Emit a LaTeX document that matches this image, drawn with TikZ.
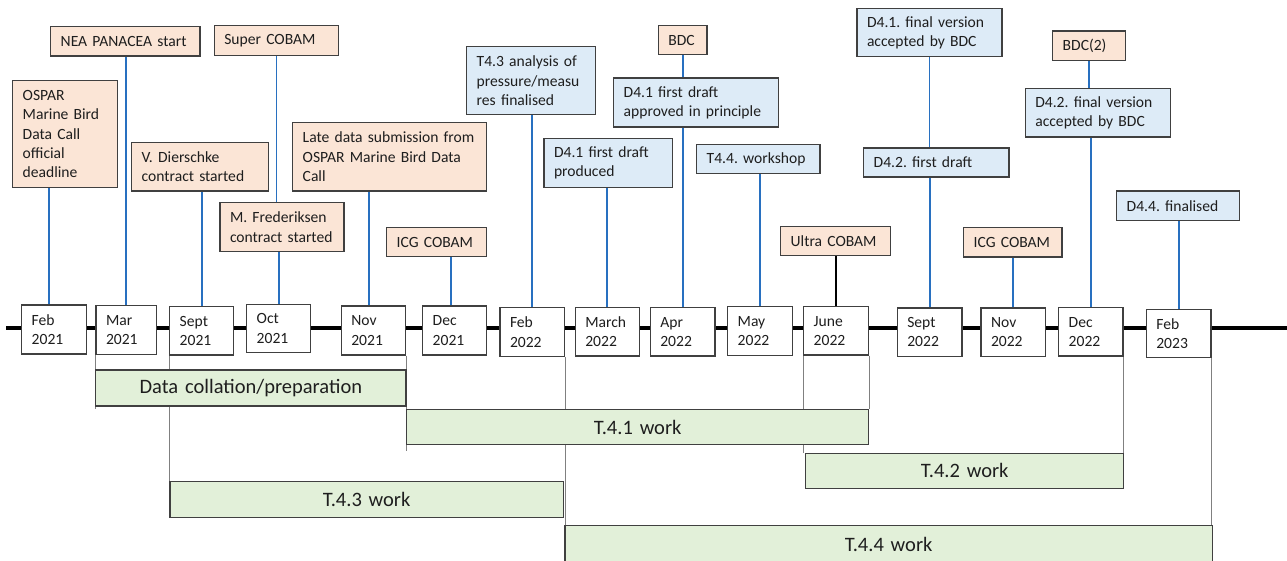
\documentclass[tikz,border=0pt]{standalone}
\usepackage{fontspec}
\setmainfont{Carlito}
\frenchspacing
\definecolor{evorange}{RGB}{251,229,214}
\definecolor{evblue}{RGB}{221,235,247}
\definecolor{barfill}{RGB}{226,240,217}
\definecolor{edge}{RGB}{64,64,64}
\definecolor{ink}{RGB}{30,30,30}
\definecolor{connblue}{RGB}{40,112,192}
\definecolor{guidegray}{RGB}{128,128,128}

% box from its corners: name, style, x1, y1, x2, y2, text
\newcommand\tlbox[7]{%
  \pgfmathsetmacro\bxw{#5-#3}%
  \pgfmathsetmacro\bxh{#6-#4}%
  \pgfmathsetmacro\bxt{#5-#3-20}%
  \node[#2, minimum width=\bxw pt, minimum height=\bxh pt, text width=\bxt pt]
    (#1) at ({(#3+#5)/2},{(#4+#6)/2}) {#7};}

\tikzset{
  basebox/.style={draw=edge, line width=1.3pt, inner xsep=10pt, inner ysep=1pt,
    text=ink, font=\fontsize{15.6}{19.3}\selectfont, align=left},
  month/.style={basebox, fill=white},
  evorg/.style={basebox, fill=evorange},
  evblu/.style={basebox, fill=evblue},
  workbar/.style={basebox, fill=barfill, align=center, font=\fontsize{20.5}{24}\selectfont},
  conn/.style={draw=connblue, line width=1.8pt},
  connblack/.style={draw=black, line width=1.8pt},
  guide/.style={draw=guidegray, line width=0.9pt},
  axis/.style={draw=black, line width=3.6pt}
}

\begin{document}
\begin{tikzpicture}[x=1pt, y=-1pt]
\useasboundingbox (0,0) rectangle (1287,561);

% time axis
\coordinate (tlstart) at (6,328);
\coordinate (tlend) at (1287,328);
\draw[axis] (tlstart) -- (tlend);

% months
\tlbox{feb21}{month}{21.7}{305}{86.3}{354}{Feb\\2021}
\tlbox{mar21}{month}{96}{305.7}{156.7}{354.3}{Mar\\2021}
\tlbox{sept21}{month}{169.7}{306.7}{233.7}{355}{Sept\\2021}
\tlbox{oct21}{month}{246.7}{304.3}{310.7}{352.7}{Oct\\2021}
\tlbox{nov21}{month}{341.3}{306}{405.7}{355}{Nov\\2021}
\tlbox{dec21}{month}{422.7}{306}{486.7}{355}{Dec\\2021}
\tlbox{feb22}{month}{500}{307.7}{564.7}{356.7}{Feb\\2022}
\tlbox{mar22}{month}{575.3}{307.7}{639.3}{356}{March\\2022}
\tlbox{apr22}{month}{650.3}{307.7}{715}{356}{Apr\\2022}
\tlbox{may22}{month}{727.7}{306.7}{792.3}{355.3}{May\\2022}
\tlbox{jun22}{month}{803.7}{306.7}{868.7}{355}{June\\2022}
\tlbox{sep22}{month}{897.3}{308}{962}{356.3}{Sept\\2022}
\tlbox{nov22}{month}{981}{308}{1045.3}{356.3}{Nov\\2022}
\tlbox{dec22}{month}{1058.7}{307.7}{1123}{356}{Dec\\2022}
\tlbox{feb23}{month}{1146.3}{309.3}{1211}{357.7}{Feb\\2023}

% events
\tlbox{ospar}{evorg}{12.7}{80.3}{117.3}{187.7}{OSPAR\\Marine Bird\\Data Call\\official\\deadline}
\tlbox{nea}{evorg}{50.7}{26.3}{200}{56}{NEA PANACEA start}
\tlbox{vd}{evorg}{131.7}{142.7}{268.7}{191}{V. Dierschke\\contract started}
\tlbox{super}{evorg}{214.3}{25.7}{338.7}{55.3}{Super COBAM}
\tlbox{mfred}{evorg}{220}{202.7}{344}{251.7}{M. Frederiksen\\contract started}
\tlbox{late}{evorg}{292.7}{122.7}{486.7}{191}{Late data submission from\\OSPAR Marine Bird Data\\Call}
\tlbox{icgone}{evorg}{386.7}{227.7}{486.7}{256.7}{ICG COBAM}
\tlbox{tfoura}{evblu}{466.7}{46.7}{595.3}{114.7}{T4.3 analysis of\\pressure/measu\\res finalised}
\tlbox{dprod}{evblu}{544}{138.3}{672.3}{187.3}{D4.1 first draft\\produced}
\tlbox{bdc}{evorg}{658.3}{25.7}{707}{54.7}{BDC}
\tlbox{dappr}{evblu}{613.7}{78}{778.3}{127}{D4.1 first draft\\approved in principle}
\tlbox{wshop}{evblu}{696.7}{144.3}{820}{173.7}{T4.4. workshop}
\tlbox{ultra}{evorg}{780.7}{226.7}{890.3}{255.7}{Ultra COBAM}
\tlbox{dfinone}{evblu}{857}{8.7}{1002}{56.7}{D4.1. final version\\accepted by BDC}
\tlbox{dtwodraft}{evblu}{863.7}{148}{1009}{177}{D4.2. first draft}
\tlbox{icgtwo}{evorg}{963.7}{227.7}{1062}{257}{ICG COBAM}
\tlbox{bdctwo}{evorg}{1052.7}{31}{1125.3}{60.7}{BDC(2)}
\tlbox{dfintwo}{evblu}{1025.3}{88.3}{1170.3}{137}{D4.2. final version\\accepted by BDC}
\tlbox{dfour}{evblu}{1116.7}{191}{1239.7}{220.7}{D4.4. finalised}

% event connectors
\draw[conn] ([xshift=-4.7pt]feb21.north) -- ([xshift=-4.7pt]feb21.north |- ospar.south);
\draw[conn] (mar21.north) -- (mar21.north |- nea.south);
\draw[conn] (sept21.north) -- (sept21.north |- vd.south);
\draw[conn] (oct21.north) -- (oct21.north |- mfred.south);
\draw[conn] (super.south) -- (super.south |- mfred.north);
\draw[conn] ([xshift=-4.8pt]nov21.north) -- ([xshift=-4.8pt]nov21.north |- late.south);
\draw[conn] ([xshift=-4pt]dec21.north) -- ([xshift=-4pt]dec21.north |- icgone.south);
\draw[conn] (feb22.north) -- (feb22.north |- tfoura.south);
\draw[conn] (mar22.north) -- (mar22.north |- dprod.south);
\draw[conn] (apr22.north) -- (apr22.north |- dappr.south);
\draw[conn] (bdc.south) -- (bdc.south |- dappr.north);
\draw[conn] (may22.north) -- (may22.north |- wshop.south);
\draw[connblack] (jun22.north) -- (jun22.north |- ultra.south);
\draw[conn] (sep22.north) -- (sep22.north |- dtwodraft.south);
\draw[conn] (dfinone.south) -- (dfinone.south |- dtwodraft.north);
\draw[conn] (nov22.north) -- (nov22.north |- icgtwo.south);
\draw[conn] (dec22.north) -- (dec22.north |- dfintwo.south);
\draw[conn] (bdctwo.south) -- (bdctwo.south |- dfintwo.north);
\draw[conn] (feb23.north) -- (feb23.north |- dfour.south);

% span guides from the months down to the work bars
\coordinate (gdata) at (0,409);
\coordinate (gtfo) at (0,450.7);
\coordinate (gtsec) at (0,453.3);
\coordinate (gtth) at (0,481.7);
\coordinate (gtff) at (0,525.7);
\coordinate (gtfone) at (0,409.3);
\draw[guide] (mar21.south west) -- (mar21.south west |- gdata);
\draw[guide] (sept21.south west) -- (sept21.south west |- gtth);
\draw[guide] (nov21.south east) -- (nov21.south east |- gtfo);
\draw[guide] (feb22.south east) -- (feb22.south east |- gtff);
\draw[guide] (jun22.south west) -- (jun22.south west |- gtsec);
\draw[guide] (jun22.south east) -- (jun22.south east |- gtfone);
\draw[guide] (dec22.south east) -- (dec22.south east |- gtsec);
\draw[guide] (feb23.south east) -- (feb23.south east |- gtff);

% work bars
\tlbox{data}{workbar}{95.7}{370}{406}{406}{Data collation/preparation}
\tlbox{tone}{workbar}{406.7}{409.3}{868.7}{444.7}{T.4.1 work}
\tlbox{ttwo}{workbar}{805.7}{453.3}{1123.7}{488.3}{T.4.2 work}
\tlbox{tthree}{workbar}{170}{481.7}{563.3}{517.3}{T.4.3 work}
\tlbox{tfour}{workbar}{565}{525.7}{1212.3}{563}{T.4.4 work}
\end{tikzpicture}
\end{document}
